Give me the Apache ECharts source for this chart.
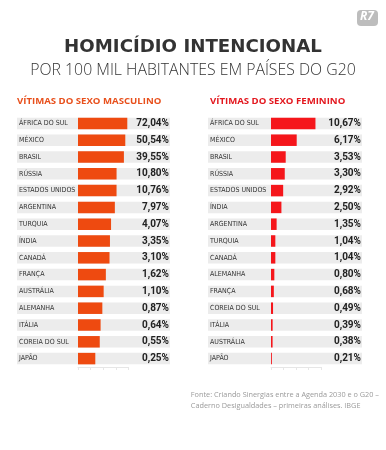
<!DOCTYPE html>
<html>
<head>
<meta charset="utf-8">
<script src="https://cdn.jsdelivr.net/npm/echarts@6/dist/echarts.min.js"></script>
<style>
html,body{margin:0;padding:0;background:#fff;}
#c{width:386px;height:450px;}
</style>
</head>
<body>
<div id="c"></div>
<script>
var maleCats = ['ÁFRICA DO SUL','MÉXICO','BRASIL','RÚSSIA','ESTADOS UNIDOS','ARGENTINA','TURQUIA','ÍNDIA','CANADÁ','FRANÇA','AUSTRÁLIA','ALEMANHA','ITÁLIA','COREIA DO SUL','JAPÃO'];
var maleVals = [72.04,50.54,39.55,10.80,10.76,7.97,4.07,3.35,3.10,1.62,1.10,0.87,0.64,0.55,0.25];
var femaleCats = ['ÁFRICA DO SUL','MÉXICO','BRASIL','RÚSSIA','ESTADOS UNIDOS','ÍNDIA','ARGENTINA','TURQUIA','CANADÁ','ALEMANHA','FRANÇA','COREIA DO SUL','ITÁLIA','AUSTRÁLIA','JAPÃO'];
var femaleVals = [10.67,6.17,3.53,3.30,2.92,2.50,1.35,1.04,1.04,0.80,0.68,0.49,0.39,0.38,0.21];

var maleLogMin = 0.0117, maleLogMax = 81.7;
var maleColor = '#ee4a10', femaleColor = '#f5161b', bandColor = '#ececec';

function fmt(v){ return v.toFixed(2).replace('.', ',') + '%'; }
function ones(a){ return a.map(function(){ return 1; }); }

var chart = echarts.init(document.getElementById('c'));
var TOP = 115, H = 252, BW = 11.5;
var catLabel = {inside:true, margin:2, align:'left', fontFamily:"'DejaVu Sans Condensed', 'DejaVu Sans', sans-serif", fontSize:7, color:'#333'};
var valLabel = {show:true, position:'insideRight', distance:1, fontFamily:'Roboto', fontWeight:'bold', fontSize:10, color:'#222'};
var faintAxis = {show:true, lineStyle:{color:'#e6e6e6', width:1}};

chart.setOption({
  animation:false,
  title:[
    {text:'HOMICÍDIO INTENCIONAL', left:'center', top:33, textStyle:{fontFamily:"'DejaVu Sans'", fontWeight:'bold', fontSize:18.2, color:'#333'}},
    {text:'POR 100 MIL HABITANTES EM PAÍSES DO G20', left:'center', top:57, textStyle:{fontFamily:"'Open Sans'", fontWeight:300, fontSize:15.8, color:'#333'}},
    {text:'VÍTIMAS DO SEXO MASCULINO', left:12, top:91, textStyle:{fontFamily:"'Open Sans'", fontWeight:'bold', fontSize:9.6, color:'#e8501c'}},
    {text:'VÍTIMAS DO SEXO FEMININO', left:205, top:91, textStyle:{fontFamily:"'Open Sans'", fontWeight:'bold', fontSize:9.6, color:'#e3171e'}}
  ],
  graphic:[
    {type:'rect', left:357, top:10, shape:{width:21, height:16, r:4}, style:{fill:'#bdbdbd'}},
    {type:'text', left:360, top:11, style:{text:'R7', fill:'#fff', font:"italic bold 12px 'Open Sans'"}},
    {type:'text', right:7, top:389, style:{text:'Fonte: Criando Sinergias entre a Agenda 2030 e o G20 –\nCaderno Desigualdades – primeiras análises. IBGE', align:'right', fill:'#9a9a9a', font:"7.3px 'Open Sans'", lineHeight:11}}
  ],
  grid:[
    {left:17, top:TOP, width:153, height:H},
    {left:78, top:TOP, width:50, height:H},
    {left:208, top:TOP, width:154, height:H},
    {left:271, top:TOP, width:50, height:H}
  ],
  xAxis:[
    {gridIndex:0, type:'value', min:0, max:1, show:false},
    {gridIndex:1, type:'log', min:maleLogMin, max:maleLogMax, axisLine:faintAxis, axisTick:{show:true, length:3, lineStyle:{color:'#e6e6e6'}}, axisLabel:{show:false}, splitLine:{show:false}},
    {gridIndex:2, type:'value', min:0, max:1, show:false},
    {gridIndex:3, type:'value', min:0, max:12, interval:3, axisLine:faintAxis, axisTick:{show:true, length:3, lineStyle:{color:'#e6e6e6'}}, axisLabel:{show:false}, splitLine:{show:false}}
  ],
  yAxis:[
    {gridIndex:0, type:'category', data:maleCats, inverse:true, axisLine:{show:false}, axisTick:{show:false}, axisLabel:catLabel, z:5},
    {gridIndex:1, type:'category', data:maleCats, inverse:true, show:false},
    {gridIndex:2, type:'category', data:femaleCats, inverse:true, axisLine:{show:false}, axisTick:{show:false}, axisLabel:catLabel, z:5},
    {gridIndex:3, type:'category', data:femaleCats, inverse:true, show:false}
  ],
  series:[
    {type:'bar', xAxisIndex:0, yAxisIndex:0, data:ones(maleCats), barWidth:BW, itemStyle:{color:bandColor}, silent:true,
      label:Object.assign({}, valLabel, {formatter:function(p){ return fmt(maleVals[p.dataIndex]); }})},
    {type:'custom', xAxisIndex:1, yAxisIndex:1, data:maleVals.map(function(v,i){ return [v,i]; }), encode:{x:0, y:1},
      renderItem:function(params, api){
        var end = api.coord([api.value(0), api.value(1)]);
        var start = api.coord([maleLogMin, api.value(1)]);
        return {type:'rect', shape:{x:start[0], y:end[1]-BW/2, width:end[0]-start[0], height:BW}, style:{fill:maleColor}};
      }, z:3},
    {type:'bar', xAxisIndex:2, yAxisIndex:2, data:ones(femaleCats), barWidth:BW, itemStyle:{color:bandColor}, silent:true,
      label:Object.assign({}, valLabel, {formatter:function(p){ return fmt(femaleVals[p.dataIndex]); }})},
    {type:'bar', xAxisIndex:3, yAxisIndex:3, data:femaleVals, barWidth:BW, itemStyle:{color:femaleColor}, z:3}
  ]
});
</script>
</body>
</html>
